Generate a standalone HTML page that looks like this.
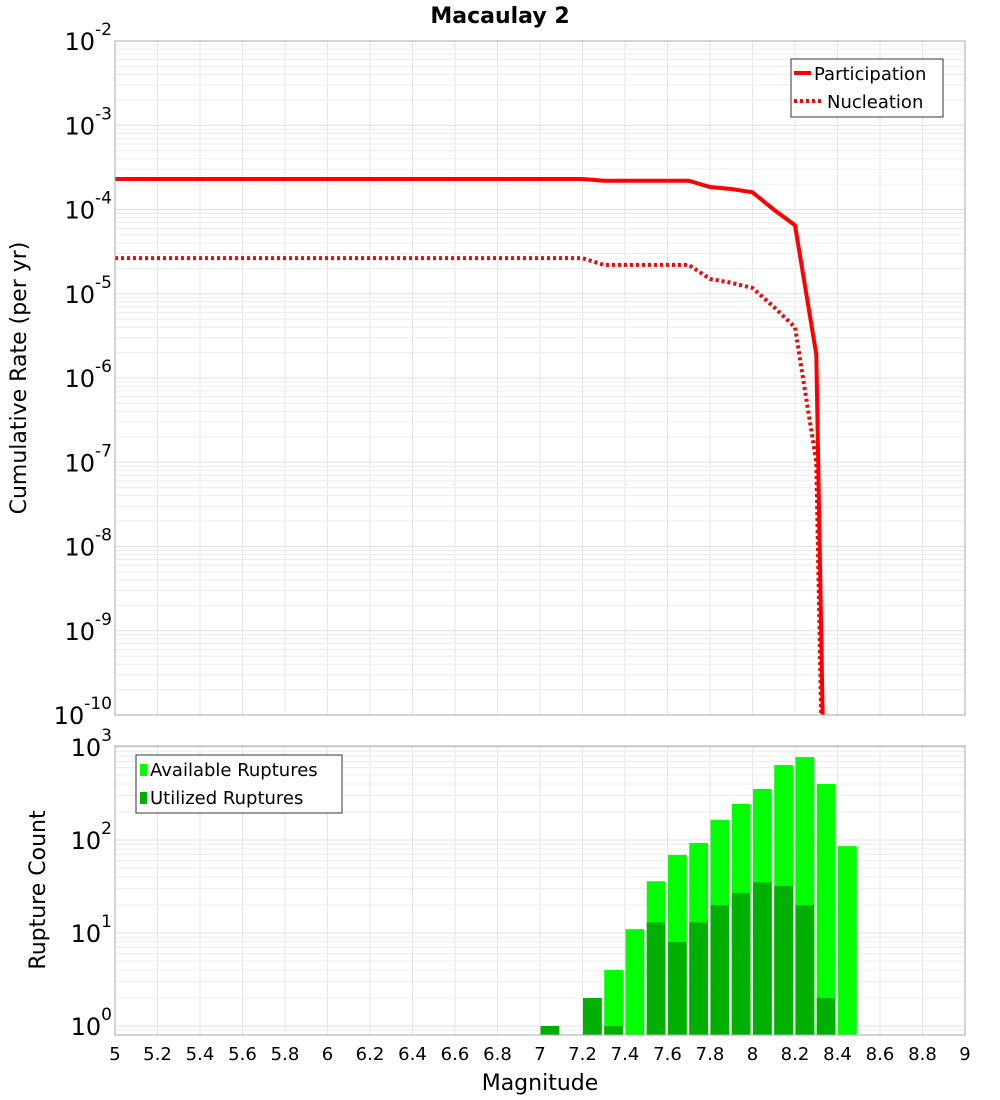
<!DOCTYPE html>
<html><head><meta charset="utf-8"><style>
body{margin:0;background:#fff;}
svg{display:block;font-family:"DejaVu Sans","Liberation Sans",sans-serif;}
</style></head><body>
<svg id="chart" width="1000" height="1100" viewBox="0 0 1000 1100" xmlns="http://www.w3.org/2000/svg">
<text x="500" y="23" text-anchor="middle" font-size="22" font-weight="bold">Macaulay 2</text>
<g id="topG"></g><g id="botG"></g>
<text transform="translate(26,378) rotate(-90)" text-anchor="middle" font-size="22">Cumulative Rate (per yr)</text>
<text transform="translate(45,890) rotate(-90)" text-anchor="middle" font-size="22">Rupture Count</text>
<text x="540" y="1090" text-anchor="middle" font-size="22">Magnitude</text>
</svg>
<script>
const mags = [5.0,5.1,5.2,5.3,5.4,5.5,5.6,5.7,5.8,5.9,6.0,6.1,6.2,6.3,6.4,6.5,6.6,6.7,6.8,6.9,7.0,7.1,7.2,7.3,7.4,7.5,7.6,7.7,7.8,7.9,8.0,8.1,8.2,8.3,8.4];
const participation = [2.3e-4,2.3e-4,2.3e-4,2.3e-4,2.3e-4,2.3e-4,2.3e-4,2.3e-4,2.3e-4,2.3e-4,2.3e-4,2.3e-4,2.3e-4,2.3e-4,2.3e-4,2.3e-4,2.3e-4,2.3e-4,2.3e-4,2.3e-4,2.3e-4,2.3e-4,2.3e-4,2.2e-4,2.2e-4,2.2e-4,2.2e-4,2.2e-4,1.85e-4,1.75e-4,1.6e-4,1.0e-4,6.5e-5,1.9e-6,1e-20];
const nucleation = [2.65e-5,2.65e-5,2.65e-5,2.65e-5,2.65e-5,2.65e-5,2.65e-5,2.65e-5,2.65e-5,2.65e-5,2.65e-5,2.65e-5,2.65e-5,2.65e-5,2.65e-5,2.65e-5,2.65e-5,2.65e-5,2.65e-5,2.65e-5,2.65e-5,2.65e-5,2.65e-5,2.2e-5,2.2e-5,2.2e-5,2.2e-5,2.2e-5,1.5e-5,1.35e-5,1.17e-5,7e-6,4e-6,1e-7,1e-20];
const binStarts = [7.0,7.2,7.3,7.4,7.5,7.6,7.7,7.8,7.9,8.0,8.1,8.2,8.3,8.4];
const available = [1,2,4,11,36,69,93,164,244,354,640,780,400,86];
const utilized = [1,2,1,0,13,8,13,20,27,35,32,20,2,0];
const xTicks = ["5","5.2","5.4","5.6","5.8","6","6.2","6.4","6.6","6.8","7","7.2","7.4","7.6","7.8","8","8.2","8.4","8.6","8.8","9"];
const topDecades = [-2,-3,-4,-5,-6,-7,-8,-9,-10];
const botDecades = [0,1,2,3];

const NS="http://www.w3.org/2000/svg";
const X0=115,X1=965;
const xs=m=>X0+(m-5)/4*(X1-X0);
const TY0=41,TY1=715;
const ty=v=>TY0+(-2-Math.log10(v))/8*(TY1-TY0);
const BY0=746,BY1=1035;
const by=v=>1026-Math.log10(v)*93;
function mk(p,tag,at){const e=document.createElementNS(NS,tag);for(const k in at)e.setAttribute(k,at[k]);p.appendChild(e);return e;}
const topG=document.getElementById('topG'), botG=document.getElementById('botG');

function grid(g,y0,y1,yf,decs,name){
  for(let i=0;i<xTicks.length;i++){const x=xs(parseFloat(xTicks[i]));
    const l=mk(g,'line',{x1:x,x2:x,y1:y0,y2:y1,stroke:'#e6e6e6','stroke-width':1});
    
    }
  const lo=Math.min(...decs),hi=Math.max(...decs);
  for(let d=lo-1;d<=hi;d++)for(let k=1;k<10;k++){const v=k*Math.pow(10,d);const y=yf(v);
    if(y<y0-0.5||y>y1+0.5)continue;
    const l=mk(g,'line',{x1:X0,x2:X1,y1:y,y2:y,stroke:k==1?'#e0e0e0':'#ececec','stroke-width':1});
    
    }
}
grid(topG,TY0,TY1,ty,topDecades,'rate');
grid(botG,BY0,BY1,by,botDecades,'count');

function ylab(g,d,y,name){const t=mk(g,'text',{x:112,y:y+9,'text-anchor':'end','font-size':24});
  
  
  t.textContent='10';const s=mk(t,'tspan',{dy:-15,'font-size':17});s.textContent=String(d);}
topDecades.forEach(d=>ylab(topG,d,ty(Math.pow(10,d)),'rate-tick-label'));
botDecades.forEach(d=>ylab(botG,d,by(Math.pow(10,d)),'count-tick-label'));

const defs=mk(topG,'defs',{});const cp=mk(defs,'clipPath',{id:'cp'});mk(cp,'rect',{x:X0,y:TY0,width:X1-X0,height:TY1-TY0});
function line(vals,dash,name){let d='';vals.forEach((v,i)=>{d+=(i?'L':'M')+xs(mags[i]).toFixed(1)+','+ty(v).toFixed(1);});
  const p=mk(topG,'path',{d:d,fill:'none',stroke:'#ff0000','stroke-width':4,'clip-path':'url(#cp)','stroke-dasharray':dash||'none'});
  
  }
line(participation,null,'participation-line');
line(nucleation,'3,3','nucleation-line');
mk(topG,'rect',{x:X0,y:TY0,width:X1-X0,height:TY1-TY0,fill:'none',stroke:'#aaa','stroke-width':1});

const bw=(X1-X0)/40;
binStarts.forEach((m,i)=>{const x=xs(m)+0.5,w=bw-2.5;
  if(available[i]>0){const r=mk(botG,'rect',{x:x,y:by(available[i]),width:w,height:BY1-by(available[i]),fill:'#00ff00'});
    
    }
  if(utilized[i]>0){const r=mk(botG,'rect',{x:x,y:by(utilized[i]),width:w,height:BY1-by(utilized[i]),fill:'#00b000'});
    
    }
});
mk(botG,'rect',{x:X0,y:BY0,width:X1-X0,height:BY1-BY0,fill:'none',stroke:'#aaa','stroke-width':1});

xTicks.forEach(t=>{const e=mk(botG,'text',{x:xs(parseFloat(t)),y:1060,'text-anchor':'middle','font-size':18});
  
  
  e.textContent=t;});

const lg=mk(topG,'g',{});


mk(lg,'rect',{x:791,y:59,width:152,height:58,fill:'#fff',stroke:'#333','stroke-width':1});
mk(lg,'line',{x1:794,x2:811,y1:73,y2:73,stroke:'#f00','stroke-width':4});
mk(lg,'line',{x1:794,x2:822,y1:101,y2:101,stroke:'#f00','stroke-width':4,'stroke-dasharray':'3,3'});
let t1=mk(lg,'text',{x:814,y:80,'font-size':18});t1.textContent='Participation';
let t2=mk(lg,'text',{x:827,y:108,'font-size':18});t2.textContent='Nucleation';
const lg2=mk(botG,'g',{});


mk(lg2,'rect',{x:136,y:755,width:206,height:58,fill:'#fff',stroke:'#333','stroke-width':1});
mk(lg2,'rect',{x:140,y:764,width:7,height:12,fill:'#00ff00'});
mk(lg2,'rect',{x:140,y:792,width:7,height:12,fill:'#00b000'});
let t3=mk(lg2,'text',{x:150,y:776,'font-size':18});t3.textContent='Available Ruptures';
let t4=mk(lg2,'text',{x:150,y:804,'font-size':18});t4.textContent='Utilized Ruptures';
</script>
</body></html>
